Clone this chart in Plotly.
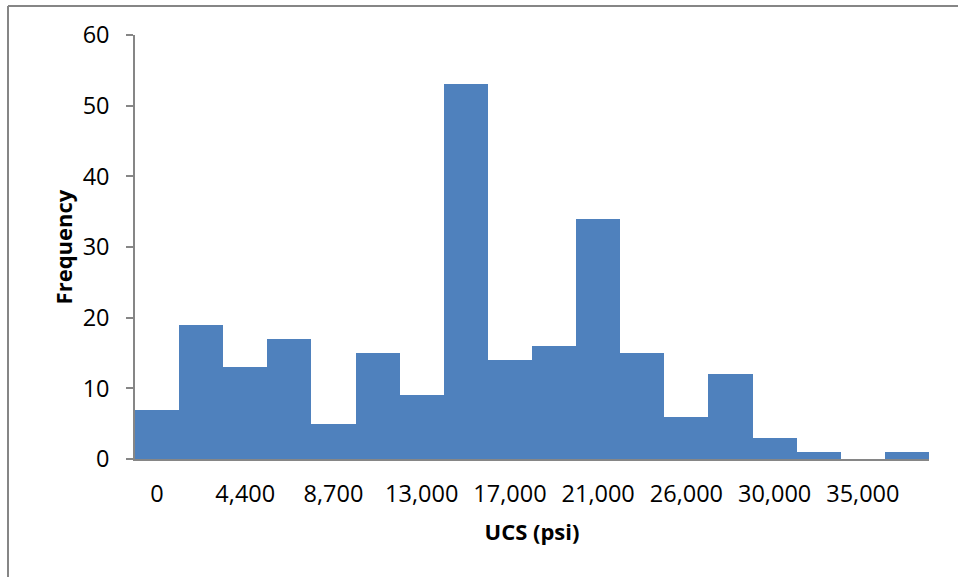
import plotly.graph_objects as go

# ---- data ----
bin_index = list(range(18))
frequency = [7, 19, 13, 17, 5, 15, 9, 53, 14, 16, 34, 15, 6, 12, 3, 1, 0, 1]
tick_positions = [0, 2, 4, 6, 8, 10, 12, 14, 16]
tick_labels = ["0", "4,400", "8,700", "13,000", "17,000", "21,000", "26,000", "30,000", "35,000"]

W, H = 958, 577
L, R, T, B = 135, 29, 35, 118
pw, ph = W - L - R, H - T - B

def px_x(p):
    return (p - L) / pw

def px_y(p):
    return (H - B - p) / ph

FONT = "Open Sans"
GRAY = "#868686"

fig = go.Figure(go.Bar(
    x=bin_index, y=frequency,
    marker=dict(color="#4F81BD", line=dict(width=0)),
))

fig.update_layout(
    width=W, height=H,
    margin=dict(l=L, r=R, t=T, b=B, pad=0),
    paper_bgcolor="white", plot_bgcolor="white",
    bargap=0, showlegend=False,
    font=dict(family=FONT, size=23, color="black"),
    xaxis=dict(
        range=[-0.5, 17.5], tickvals=tick_positions, ticktext=tick_labels,
        showline=True, linecolor=GRAY, linewidth=1.5, showgrid=False, zeroline=False,
        ticks="outside", ticklen=13, tickcolor="rgba(0,0,0,0)",
        tickfont=dict(family=FONT, size=23.5),
        title=dict(text="<b>UCS (psi)</b>", font=dict(family=FONT, size=22), standoff=17),
    ),
    yaxis=dict(
        range=[0, 60], dtick=10, tick0=0,
        showline=True, linecolor=GRAY, linewidth=1.5, showgrid=False, zeroline=False,
        ticks="outside", ticklen=7, tickcolor=GRAY, tickwidth=1.5,
        ticklabelstandoff=12,
        tickfont=dict(family=FONT, size=23.5),
        title=dict(text="<b>Frequency</b>", font=dict(family=FONT, size=22), standoff=4),
    ),
    shapes=[
        dict(type="line", xref="paper", yref="paper",
             x0=px_x(8), x1=px_x(W + 5), y0=px_y(6), y1=px_y(6),
             line=dict(color=GRAY, width=2)),
        dict(type="line", xref="paper", yref="paper",
             x0=px_x(8), x1=px_x(8), y0=px_y(6), y1=px_y(H + 5),
             line=dict(color=GRAY, width=2)),
    ],
)

fig.write_html("out.html")
